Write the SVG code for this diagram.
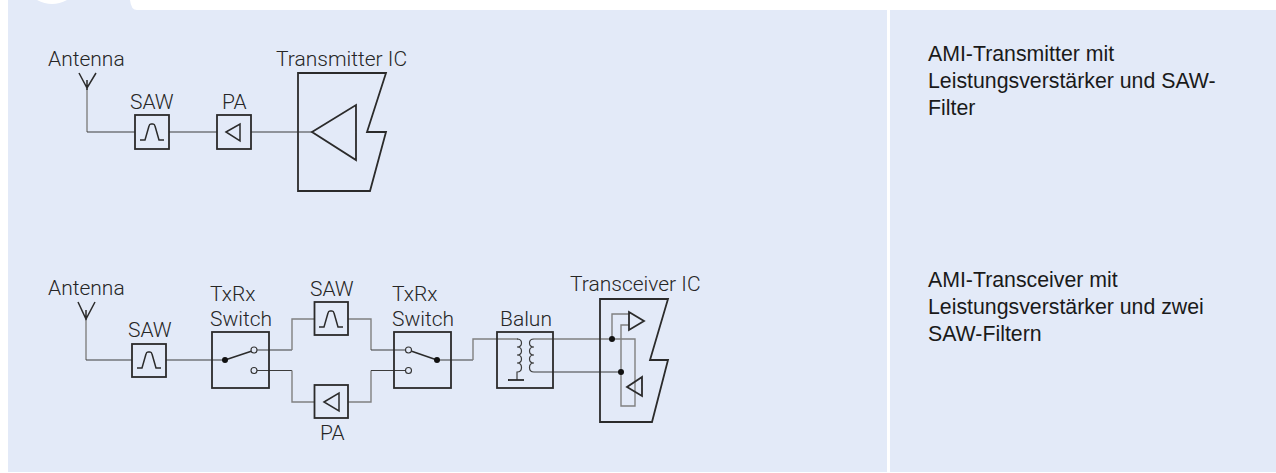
<svg xmlns="http://www.w3.org/2000/svg" width="1276" height="473" viewBox="0 0 1276 473">
<style>
.lbl{font-family:Roboto,"Liberation Sans",sans-serif;font-size:21px;fill:#262626;font-weight:300}
.desc{font-family:"Liberation Sans",Arial,sans-serif;font-size:21.3px;fill:#1a1a1a}
.box{fill:none;stroke:#2b2b2b;stroke-width:1.8}
.sym{fill:none;stroke:#2b2b2b;stroke-width:1.5}
.w{fill:none;stroke:#3c3c3c;stroke-width:1.2}
.g{fill:none;stroke:#808080;stroke-width:1.4}
.dot{fill:#111}
.o{fill:#e3eaf8;stroke:#333;stroke-width:1.1}
</style>
<defs>
<path id="saw" class="sym" d="M-12,8H-7L-3,-6Q-2.5,-8 -1,-8H1Q2.5,-8 3,-6L7,8H12"/>
</defs>
<rect width="1276" height="473" fill="#fff"/>
<rect x="8" y="0" width="1268" height="472" fill="#e3eaf8"/>
<path d="M130,0H1276V10H137Q131,10 130,0Z" fill="#fff"/>
<path d="M37,0Q52,8 67,0Z" fill="#fff"/>
<rect x="887" y="10" width="3" height="462" fill="#fff"/>
<g id="connectors">
<path class="g" d="M87,88V132"/>
<path class="w" d="M87,132H135M169,132H217M251,132H312"/>
<path class="g" d="M86,319V360"/>
<path class="w" d="M86,360H132M166,360H225"/>
<path class="w" d="M257,350H292M257,370.500H292"/>
<path class="g" d="M292,350V319H315M292,370.500V402H315"/>
<path class="g" d="M348,319H371V350M348,402H371V370.500"/>
<path class="w" d="M371,350H406M371,370.500H406"/>
<path class="w" d="M437,360H473"/>
<path class="g" d="M473,360V339H518M534,339H635V406H621V325H629M612,339V314H629"/>
<path class="w" d="M534,372H621"/>
</g>
<g id="ant1"><text class="lbl" x="48" y="66">Antenna</text><path class="sym" d="M79,73L87,88L96,73M87,80V90"/></g>
<g id="saw1"><text class="lbl" x="130" y="109">SAW</text><rect class="box" x="135" y="115" width="34" height="34"/><use href="#saw" x="152" y="132"/></g>
<g id="pa1"><text class="lbl" x="222" y="109">PA</text><rect class="box" x="217" y="115" width="34" height="34"/><path class="sym" d="M226,132L240,124V141Z"/></g>
<g id="tx"><text class="lbl" x="276" y="66">Transmitter IC</text><path class="box" d="M298,73H386L367,132H386L370,191H298Z"/><path class="box" d="M312,132L356,105V160Z"/></g>
<g id="ant2"><text class="lbl" x="48" y="295">Antenna</text><path class="sym" d="M78,302L86,319L95,302M86,310V320"/></g>
<g id="saw2"><text class="lbl" x="128" y="337">SAW</text><rect class="box" x="132" y="344" width="34" height="33"/><use href="#saw" x="149" y="360"/></g>
<g id="sw1"><text class="lbl" x="210" y="301">TxRx</text><text class="lbl" x="210" y="326">Switch</text><rect class="box" x="212" y="332" width="57" height="56"/><path class="sym" d="M225,360L252,351"/><circle class="dot" cx="225" cy="360" r="3"/><circle class="o" cx="254" cy="350" r="3"/><circle class="o" cx="254" cy="370.500" r="3"/></g>
<g id="saw3"><text class="lbl" x="310" y="296">SAW</text><rect class="box" x="314.500" y="302" width="33.500" height="33"/><use href="#saw" x="331" y="319"/></g>
<g id="pa2"><text class="lbl" x="320" y="440">PA</text><rect class="box" x="314.500" y="385" width="33.500" height="33"/><path class="sym" d="M324,402L339,393V411Z"/></g>
<g id="sw2"><text class="lbl" x="392" y="301">TxRx</text><text class="lbl" x="392" y="326">Switch</text><rect class="box" x="394" y="332" width="57" height="56"/><path class="sym" d="M411,351L437,360"/><circle class="dot" cx="437" cy="360" r="3"/><circle class="o" cx="408.500" cy="350" r="3"/><circle class="o" cx="408.500" cy="370.500" r="3"/></g>
<g id="balun"><text class="lbl" x="500" y="326">Balun</text><rect class="box" x="497" y="332" width="56" height="56"/><path class="w" d="M517,339c6,0 6,8 0,8c6,0 6,8 0,8c6,0 6,8 0,8c6,0 6,9 0,9V380"/><path class="box" d="M508,380H524"/><path class="w" d="M534,339c-6,0 -6,8 0,8c-6,0 -6,8 0,8c-6,0 -6,8 0,8c-6,0 -6,9 0,9"/></g>
<g id="trx"><text class="lbl" x="570" y="291">Transceiver IC</text><path class="box" d="M600,299H668L650,360H668L652,422H600Z"/><path class="box" d="M629,312L644,321L629,330ZM642,377L627,387L642,396Z"/><circle class="dot" cx="612" cy="339" r="3"/><circle class="dot" cx="621" cy="372" r="3"/></g>
<g id="desc1"><text class="desc"><tspan x="928" y="61">AMI-Transmitter mit</tspan><tspan x="928" y="88">Leistungsverstärker und SAW-</tspan><tspan x="928" y="114.500">Filter</tspan></text></g>
<g id="desc2"><text class="desc"><tspan x="928" y="287">AMI-Transceiver mit</tspan><tspan x="928" y="313.500">Leistungsverstärker und zwei</tspan><tspan x="928" y="341">SAW-Filtern</tspan></text></g>
</svg>
